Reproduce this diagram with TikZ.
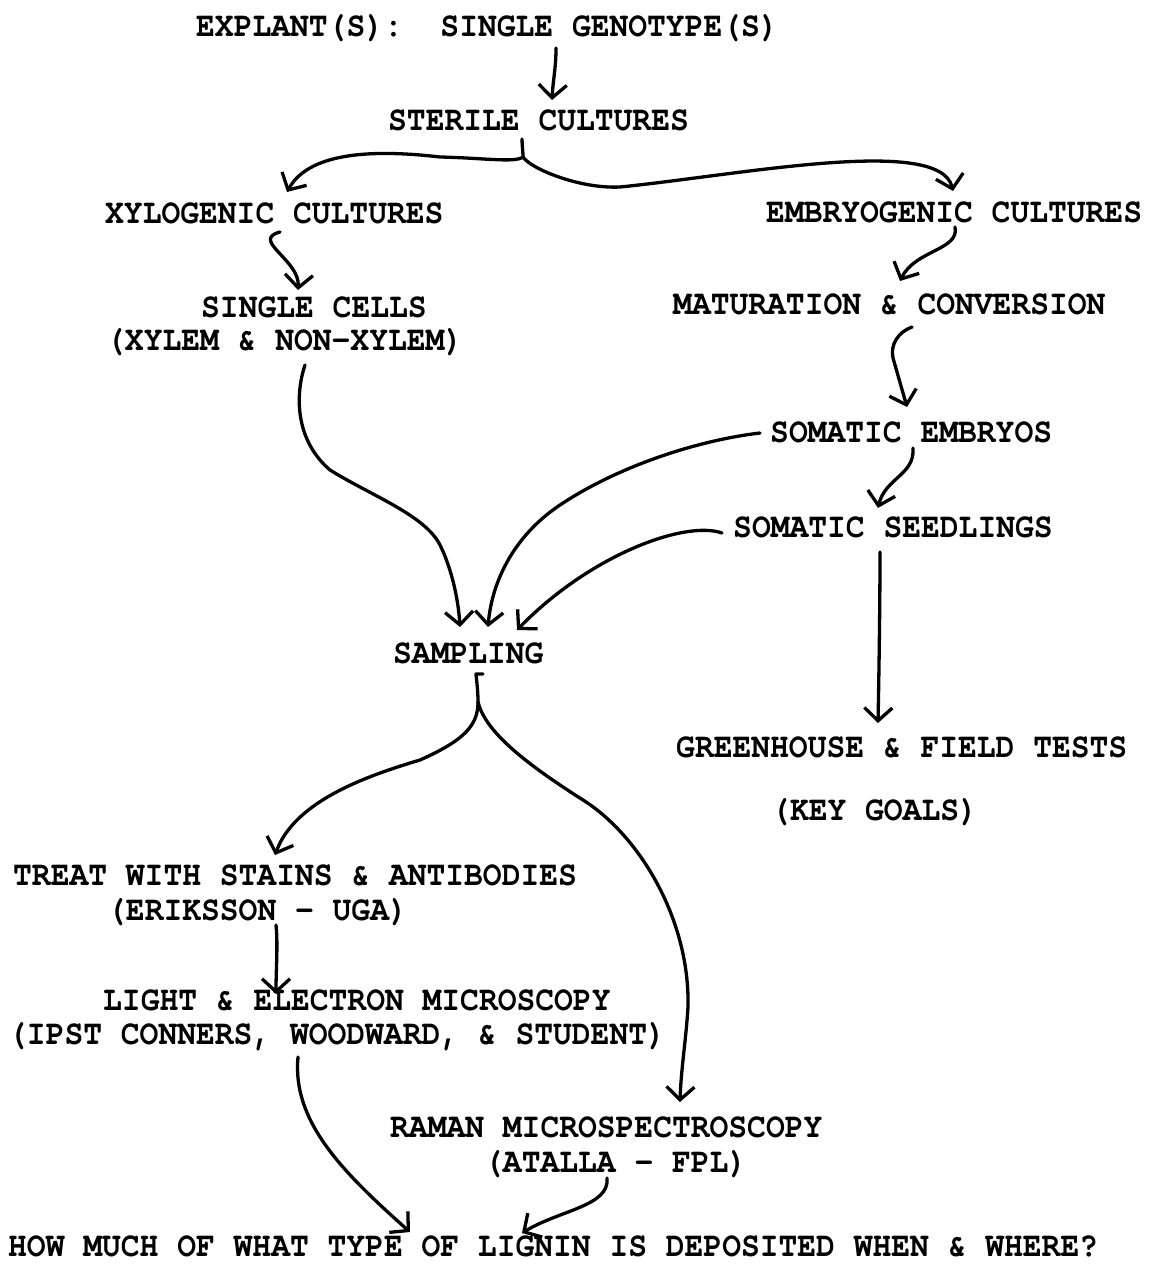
\documentclass[tikz,border=0pt]{standalone}
\usepackage{fontspec}
\newfontfamily\tw{TeX Gyre Cursor}[FakeStretch=0.9]
\usetikzlibrary{arrows.meta}
\frenchspacing
\begin{document}
\begin{tikzpicture}[x=1pt,y=-1pt,
  txt/.style={anchor=base west,inner sep=0pt,font={\tw\bfseries\fontsize{34.8}{36}\selectfont}},
  ln/.style={line width=3.3pt,line cap=round,line join=round},
  arr/.style={ln,-{Straight Barb[length=13pt,width=28pt]}}]
\fill[white] (0,0) rectangle (1151,1266);
\useasboundingbox (0,0) rectangle (1151,1266);
% texts
\node[txt] (g0) at (196,36) {EXPLANT(S):\ \ SINGLE GENOTYPE(S)};
\node[txt] (ster) at (388,130) {STERILE CULTURES};
\node[txt] (xylo) at (105,223) {XYLOGENIC CULTURES};
\node[txt] (embr) at (766,222) {EMBRYOGENIC CULTURES};
\node[txt] (cells1) at (201,317) {SINGLE CELLS};
\node[txt] (cells2) at (106,350) {(XYLEM \& NON-XYLEM)};
\node[txt] (matu) at (673,314) {MATURATION \& CONVERSION};
\node[txt] (emb) at (770,442) {SOMATIC EMBRYOS};
\node[txt] (seed) at (733,537) {SOMATIC SEEDLINGS};
\node[txt] (samp) at (393,663) {SAMPLING};
\node[txt] (green) at (676,757) {GREENHOUSE \& FIELD TESTS};
\node[txt] (key) at (771,820) {(KEY GOALS)};
\node[txt] (treat1) at (13,885) {TREAT WITH STAINS \& ANTIBODIES};
\node[txt] (treat2) at (107,920) {(ERIKSSON - UGA)};
\node[txt] (light1) at (103,1010) {LIGHT \& ELECTRON MICROSCOPY};
\node[txt] (light2) at (8,1044) {(IPST CONNERS, WOODWARD, \& STUDENT)};
\node[txt] (raman1) at (390,1137) {RAMAN MICROSPECTROSCOPY};
\node[txt] (raman2) at (484,1172) {(ATALLA - FPL)};
\node[txt] (how) at (8,1256) {HOW MUCH OF WHAT TYPE OF LIGNIN IS DEPOSITED WHEN \& WHERE?};
% junctions
\coordinate (j1) at ([shift={(135,27)}]ster.base west);
\coordinate (j2) at ([shift={(85,39)}]samp.base west);
% connectors
\draw[arr] ([shift={(360,12)}]g0.base west) .. controls +(0,20) and +(1,-20) .. ([shift={(164,-30)}]ster.base west);
\draw[ln] ([shift={(134,9)}]ster.base west) .. controls +(0,6) and +(0,-6) .. (j1);
\draw[arr] (j1) .. controls +(-8,6) and +(45,1) .. ++(-83,0)
  .. controls +(-60,-7) and +(23,-42) .. ([shift={(182,-31)}]xylo.base west);
\draw[arr] (j1) .. controls +(8,12) and +(-40,2) .. ++(97,30)
  .. controls +(120,-12) and +(-13,-56) .. ([shift={(187,-31)}]embr.base west);
\draw[arr] ([shift={(175,9)}]xylo.base west) .. controls +(-30,8) and +(2,-30) .. ([shift={(97,-27)}]cells1.base west);
\draw[arr] ([shift={(189,5)}]embr.base west) .. controls +(5,23) and +(15,-31) .. ([shift={(227,-33)}]matu.base west);
\draw[arr] ([shift={(239,13)}]matu.base west) .. controls +(-14,5) and +(-3,-13) .. ++(-19,31)
  -- ([shift={(137,-35)}]emb.base west);
\draw[arr] ([shift={(143,6)}]emb.base west) .. controls +(2,27) and +(7,-30) .. ([shift={(145,-29)}]seed.base west);
\draw[arr] ([shift={(199,15)}]cells2.base west) .. controls +(-10,30) and +(-35,-30) .. ++(25,105)
  .. controls +(40,25) and +(-15,-30) .. ++(110,75)
  .. controls +(10,20) and +(-2,-32) .. ([shift={(67,-36)}]samp.base west);
\draw[arr] ([shift={(-10,-9)}]emb.base west) .. controls +(-60,7) and +(60,-40) .. ++(-200,72)
  .. controls +(-45,30) and +(4,-47) .. ([shift={(95,-36)}]samp.base west);
\draw[arr] ([shift={(-11,-4)}]seed.base west) .. controls +(-37,-13) and +(73,-75) .. ([shift={(124,-33)}]samp.base west);
\draw[arr] ([shift={(147,15)}]seed.base west) .. controls +(0,50) and +(1,-50) .. ([shift={(202,-34)}]green.base west);
\draw[ln] ([shift={(90,11)}]samp.base west) -- ++(-7,0) .. controls +(1,10) and +(0,-10) .. (j2);
\draw[arr] (j2) .. controls +(0,23) and +(45,-20) .. ++(-58,58)
  .. controls +(-50,15) and +(20,-55) .. ([shift={(262,-30)}]treat1.base west);
\draw[arr] (j2) .. controls +(7,28) and +(-63,-40) .. ++(105,98)
  .. controls +(57,36) and +(2,-87) .. ++(105,207)
  .. controls +(-2,33) and +(1,-33) .. ([shift={(290,-35)}]raman1.base west);
\draw[arr] ([shift={(169,5)}]treat2.base west) .. controls +(2,20) and +(0,-25) .. ([shift={(173,-16)}]light1.base west);
\draw[arr] ([shift={(290,13)}]light2.base west) .. controls +(-6,63) and +(-70,-62) .. ([shift={(402,-24)}]how.base west);
\draw[arr] ([shift={(123,6)}]raman2.base west) .. controls +(3,28) and +(38,-23) .. ([shift={(514,-23)}]how.base west);
\end{tikzpicture}
\end{document}
